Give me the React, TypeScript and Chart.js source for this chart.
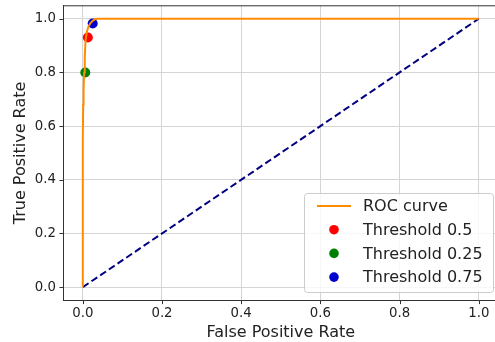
import React, { useEffect, useRef } from "react";
import { Chart, registerables } from "chart.js";

Chart.register(...registerables);

const rocFpr = [0, 0, 0.001, 0.002, 0.0035, 0.005, 0.007, 0.01, 0.014, 0.019, 0.025, 0.031, 0.038, 1.0];
const rocTpr = [0, 0.55, 0.68, 0.74, 0.8, 0.86, 0.92, 0.95, 0.97, 0.983, 0.992, 0.998, 1.0, 1.0];
const diagFpr = [0, 1];
const diagTpr = [0, 1];
const thresholdLabels = ["Threshold 0.5", "Threshold 0.25", "Threshold 0.75"];
const thresholdFpr = [0.0127, 0.0063, 0.025];
const thresholdTpr = [0.93, 0.8, 0.982];
const thresholdColors = ["#ff0000", "#008000", "#0000cc"];
const tickValues = [0, 0.2, 0.4, 0.6, 0.8, 1.0];
const xTitle = "False Positive Rate";

const FONT = "'DejaVu Sans', sans-serif";
const TEXT = "#222222";

const framePlugin = {
  id: "frame",
  afterDatasetsDraw(chart: any) {
    const { ctx, chartArea, scales } = chart;
    const { left, right, top, bottom } = chartArea;
    ctx.save();
    ctx.strokeStyle = "#333333";
    ctx.lineWidth = 1;
    ctx.beginPath();
    ctx.moveTo(left, top + 0.5);
    ctx.lineTo(right, top + 0.5);
    for (const v of tickValues) {
      const px = Math.round(scales.x.getPixelForValue(v)) + 0.5;
      ctx.moveTo(px, bottom);
      ctx.lineTo(px, bottom + 3.5);
      const py = Math.round(scales.y.getPixelForValue(v)) + 0.5;
      ctx.moveTo(left - 3.5, py);
      ctx.lineTo(left, py);
    }
    ctx.stroke();

    // x axis title centred on the full axis span (-0.05 .. 1.05)
    ctx.font = `16px ${FONT}`;
    ctx.fillStyle = TEXT;
    ctx.textAlign = "center";
    ctx.textBaseline = "middle";
    ctx.fillText(xTitle, scales.x.getPixelForValue(0.5), 333);

    // legend
    const boxW = 189;
    const boxH = 99;
    const bx = 493 - boxW;
    const by = bottom - 8.6 - boxH;
    ctx.beginPath();
    (ctx as any).roundRect(bx + 0.5, by + 0.5, boxW, boxH, 3);
    ctx.fillStyle = "rgba(255,255,255,0.8)";
    ctx.fill();
    ctx.strokeStyle = "#cccccc";
    ctx.stroke();

    const entries = chart.data.datasets.filter((d: any) => d.label);
    entries.sort((a: any, b: any) => a.legendIndex - b.legendIndex);
    ctx.textAlign = "left";
    entries.forEach((d: any, i: number) => {
      const y = by + 13 + i * 23.7;
      if (d.showLine) {
        ctx.strokeStyle = d.borderColor;
        ctx.lineWidth = 2;
        ctx.beginPath();
        ctx.moveTo(bx + 13, y);
        ctx.lineTo(bx + 47, y);
        ctx.stroke();
      } else {
        ctx.fillStyle = d.backgroundColor;
        ctx.beginPath();
        ctx.arc(bx + 30, y, 4.8, 0, Math.PI * 2);
        ctx.fill();
      }
      ctx.fillStyle = TEXT;
      ctx.fillText(d.label, bx + 59, y + 1);
    });
    ctx.restore();
  },
};

export default function App() {
  const ref = useRef<HTMLCanvasElement>(null);

  useEffect(() => {
    if (!ref.current) return;
    Chart.defaults.font.family = FONT;
    const pointSets = thresholdLabels.map((label, i) => ({
      label,
      legendIndex: i + 1,
      data: [{ x: thresholdFpr[i], y: thresholdTpr[i] }],
      backgroundColor: thresholdColors[i],
      borderColor: thresholdColors[i],
      pointRadius: 5,
      borderWidth: 0,
      showLine: false,
      order: 2,
    }));
    const chart = new Chart(ref.current, {
      type: "scatter",
      data: {
        datasets: [
          {
            label: "ROC curve",
            legendIndex: 0,
            data: rocFpr.map((x, i) => ({ x, y: rocTpr[i] })),
            borderColor: "#ff8c00",
            backgroundColor: "#ff8c00",
            borderWidth: 2,
            pointRadius: 0,
            showLine: true,
            tension: 0,
            order: 1,
          } as any,
          {
            label: "",
            data: diagFpr.map((x, i) => ({ x, y: diagTpr[i] })),
            borderColor: "#000080",
            borderWidth: 2,
            borderDash: [7, 3.5],
            pointRadius: 0,
            showLine: true,
            order: 3,
          },
          ...pointSets,
        ],
      },
      options: {
        animation: false,
        responsive: false,
        layout: { autoPadding: false, padding: { top: 5.3, right: 0, left: 0, bottom: 0 } },
        plugins: { legend: { display: false }, tooltip: { enabled: false } },
        scales: {
          x: {
            type: "linear",
            min: -0.05,
            max: 1.041,
            afterBuildTicks: (s: any) => {
              s.ticks = tickValues.map((value) => ({ value }));
            },
            afterFit: (s: any) => {
              s.height = 41.4;
              s.paddingLeft = 0;
              s.paddingRight = 0;
            },
            ticks: {
              padding: 5,
              color: TEXT,
              font: { size: 13.3, family: FONT },
              callback: (v: any) => Number(v).toFixed(1),
              maxRotation: 0,
            },
            grid: { color: "#d4d4d4", drawTicks: false, lineWidth: 1 },
            border: { color: "#333333", width: 1 },
          },
          y: {
            type: "linear",
            min: -0.05,
            max: 1.05,
            afterBuildTicks: (s: any) => {
              s.ticks = tickValues.map((value) => ({ value }));
            },
            afterFit: (s: any) => {
              s.width = 63;
              s.paddingTop = 0;
              s.paddingBottom = 0;
            },
            ticks: {
              padding: 7,
              color: TEXT,
              font: { size: 13.3, family: FONT },
              callback: (v: any) => Number(v).toFixed(1),
            },
            grid: { color: "#d4d4d4", drawTicks: false, lineWidth: 1 },
            border: { color: "#333333", width: 1 },
            title: {
              display: true,
              text: "True Positive Rate",
              color: TEXT,
              font: { size: 16, family: FONT },
              padding: { top: 11, bottom: 0 },
            },
          },
        },
      },
      plugins: [framePlugin],
    });
    return () => chart.destroy();
  }, []);

  return (
    <div style={{ position: "fixed", left: 0, top: 0, width: 495, height: 342, overflow: "hidden" }}>
      <canvas ref={ref} width={495} height={342} style={{ width: 495, height: 342, display: "block" }} />
    </div>
  );
}
